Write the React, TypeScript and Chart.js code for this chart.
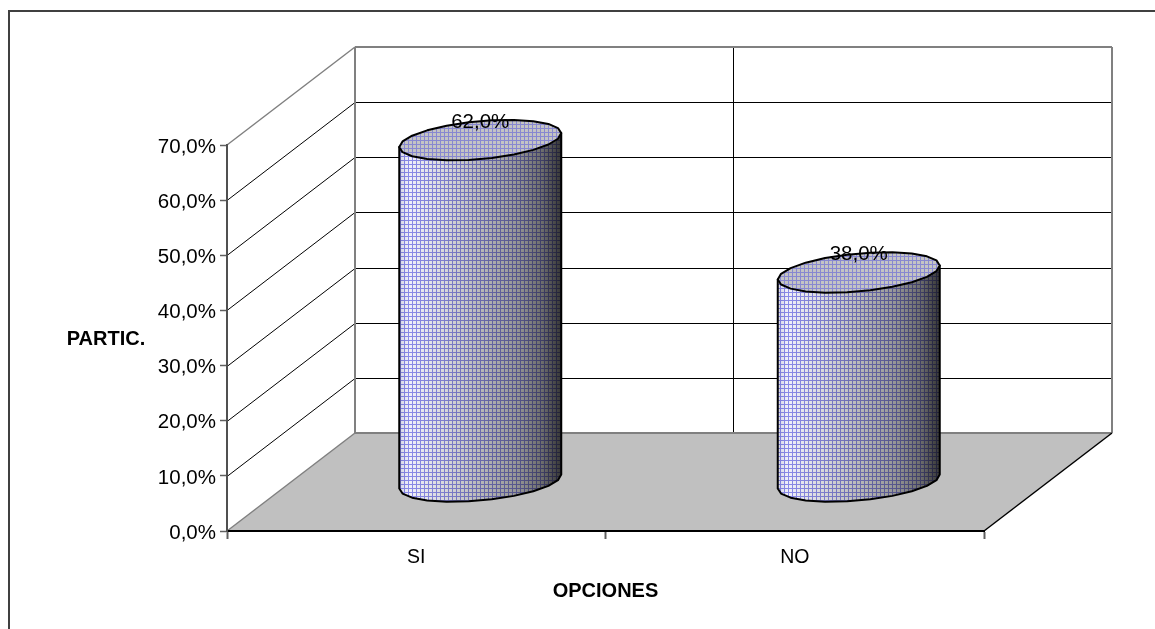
import React, { useEffect, useRef } from "react";
import { Chart, registerables } from "chart.js";

Chart.register(...registerables);

// Chart content
const categories = ["SI", "NO"];
const shares = [62, 38];
const axisMax = 70;
const axisStep = 10;
const xTitle = "OPCIONES";
const yTitle = "PARTIC.";

// Oblique projection of the plot box
const DEPTH_X = 128;
const DEPTH_Y = 98;
const TILT = 7;
const CAP_B = 19;
const SEGMENTS = 22;

const FONT = '"Liberation Sans", Arial, sans-serif';
const WALL_GREY = "#808080";

const percent = (v: number) => v.toFixed(1).replace(".", ",") + "%";

function gridPattern(ctx: CanvasRenderingContext2D, base: string, line: string) {
  const c = document.createElement("canvas");
  c.width = 4;
  c.height = 4;
  const p = c.getContext("2d")!;
  p.fillStyle = base;
  p.fillRect(0, 0, 4, 4);
  p.fillStyle = line;
  p.fillRect(0, 0, 4, 1);
  p.fillRect(0, 0, 1, 4);
  return ctx.createPattern(c, "repeat")!;
}

function capPoint(cx: number, cy: number, a: number, t: number): [number, number] {
  return [cx + a * Math.cos(t), cy + CAP_B * Math.sin(t) - TILT * Math.cos(t)];
}

function segment(ctx: CanvasRenderingContext2D, x1: number, y1: number, x2: number, y2: number, color: string, width: number) {
  ctx.strokeStyle = color;
  ctx.lineWidth = width;
  ctx.beginPath();
  ctx.moveTo(x1, y1);
  ctx.lineTo(x2, y2);
  ctx.stroke();
}

// Frame, floor and the two walls behind the columns
const boxPlugin = {
  id: "box",
  beforeDraw(chart: any) {
    const { ctx, scales } = chart;
    const x = scales.x;
    const y = scales.y;
    const left = x.left;
    const right = x.right;
    const bottom = y.getPixelForValue(0);
    const top = y.getPixelForValue(axisMax);
    ctx.save();

    ctx.strokeStyle = "#404040";
    ctx.lineWidth = 2;
    ctx.beginPath();
    ctx.moveTo(9, chart.height + 2);
    ctx.lineTo(9, 11);
    ctx.lineTo(chart.width + 2, 11);
    ctx.stroke();

    ctx.fillStyle = "#c0c0c0";
    ctx.beginPath();
    ctx.moveTo(left, bottom);
    ctx.lineTo(right, bottom);
    ctx.lineTo(right + DEPTH_X, bottom - DEPTH_Y);
    ctx.lineTo(left + DEPTH_X, bottom - DEPTH_Y);
    ctx.closePath();
    ctx.fill();

    for (let v = axisStep; v < axisMax; v += axisStep) {
      const py = Math.round(y.getPixelForValue(v)) + 0.5;
      segment(ctx, left, py, left + DEPTH_X, py - DEPTH_Y, "#000000", 1);
      segment(ctx, left + DEPTH_X, py - DEPTH_Y, right + DEPTH_X, py - DEPTH_Y, "#000000", 1);
    }
    const mid = x.getPixelForValue(0.5) + DEPTH_X;
    segment(ctx, mid, top - DEPTH_Y, mid, bottom - DEPTH_Y, "#000000", 1);

    segment(ctx, left, top, left + DEPTH_X, top - DEPTH_Y, WALL_GREY, 1.5);
    segment(ctx, left + DEPTH_X, top - DEPTH_Y, right + DEPTH_X, top - DEPTH_Y, WALL_GREY, 2);
    segment(ctx, left + DEPTH_X, top - DEPTH_Y, left + DEPTH_X, bottom - DEPTH_Y, WALL_GREY, 2);
    segment(ctx, right + DEPTH_X, top - DEPTH_Y, right + DEPTH_X, bottom - DEPTH_Y, WALL_GREY, 2);
    segment(ctx, left + DEPTH_X, bottom - DEPTH_Y, right + DEPTH_X, bottom - DEPTH_Y, WALL_GREY, 2);
    segment(ctx, left, bottom, left + DEPTH_X, bottom - DEPTH_Y, WALL_GREY, 1.5);
    segment(ctx, right, bottom, right + DEPTH_X, bottom - DEPTH_Y, "#000000", 1.5);

    // The value axis name sits horizontally, which scale titles cannot do
    ctx.fillStyle = "#000000";
    ctx.font = `bold 20px ${FONT}`;
    ctx.textAlign = "center";
    ctx.textBaseline = "middle";
    ctx.fillText(yTitle, 106, 339);
    ctx.restore();
  },
};

// Columns are drawn as cylinders from the geometry of the bar elements
const cylinderPlugin = {
  id: "cylinder",
  beforeDatasetDraw() {
    return false;
  },
  afterDatasetsDraw(chart: any) {
    const { ctx } = chart;
    const meta = chart.getDatasetMeta(0);
    const sidePattern = gridPattern(ctx, "#fafafa", "#9090e8");
    const capPattern = gridPattern(ctx, "#c4c4c4", "#8888d0");

    meta.data.forEach((bar: any, i: number) => {
      const props = bar.getProps(["x", "y", "base", "width"], true);
      const cx = props.x + DEPTH_X / 2;
      const cyTop = props.y - DEPTH_Y / 2;
      const cyBottom = props.base - DEPTH_Y / 2;
      const a = props.width / 2;

      const side = new Path2D();
      const topRight = capPoint(cx, cyTop, a, 0);
      side.moveTo(topRight[0], topRight[1]);
      for (let s = 0; s <= SEGMENTS / 2; s++) {
        const p = capPoint(cx, cyBottom, a, (s / (SEGMENTS / 2)) * Math.PI);
        side.lineTo(p[0], p[1]);
      }
      const topLeft = capPoint(cx, cyTop, a, Math.PI);
      side.lineTo(topLeft[0], topLeft[1]);
      side.closePath();

      const cap = new Path2D();
      for (let s = 0; s < SEGMENTS; s++) {
        const p = capPoint(cx, cyTop, a, (s / SEGMENTS) * 2 * Math.PI);
        if (s === 0) cap.moveTo(p[0], p[1]);
        else cap.lineTo(p[0], p[1]);
      }
      cap.closePath();

      ctx.save();
      ctx.fillStyle = sidePattern;
      ctx.fill(side);
      ctx.globalCompositeOperation = "multiply";
      const shade = ctx.createLinearGradient(cx - a, 0, cx + a, 0);
      shade.addColorStop(0, "#d8d8e8");
      shade.addColorStop(0.06, "#f4f4ff");
      shade.addColorStop(0.25, "#e0e0e4");
      shade.addColorStop(0.5, "#bcbcbc");
      shade.addColorStop(0.72, "#9a9a9a");
      shade.addColorStop(0.88, "#707070");
      shade.addColorStop(1, "#383838");
      ctx.fillStyle = shade;
      ctx.fill(side);
      ctx.globalCompositeOperation = "source-over";

      ctx.strokeStyle = "#000000";
      ctx.lineWidth = 2;
      ctx.lineJoin = "round";
      ctx.stroke(side);
      ctx.fillStyle = capPattern;
      ctx.fill(cap);
      ctx.stroke(cap);

      ctx.fillStyle = "#000000";
      ctx.font = `20.5px ${FONT}`;
      ctx.textAlign = "center";
      ctx.textBaseline = "middle";
      ctx.fillText(percent(shares[i]), cx, cyTop - 18);
      ctx.restore();
    });
  },
};

export default function App() {
  const ref = useRef<HTMLCanvasElement>(null);

  useEffect(() => {
    const chart = new Chart(ref.current!, {
      type: "bar",
      data: {
        labels: categories,
        datasets: [
          {
            label: yTitle,
            data: shares,
            backgroundColor: "#9999ff",
            barPercentage: 162 / 378.5,
            categoryPercentage: 1,
          },
        ],
      },
      plugins: [boxPlugin, cylinderPlugin],
      options: {
        responsive: false,
        animation: false,
        layout: { padding: { top: 145, right: 171, bottom: 0, left: 0 } },
        plugins: { legend: { display: false }, title: { display: false }, tooltip: { enabled: false } },
        scales: {
          x: {
            afterFit(scale: any) {
              scale.height = 98;
            },
            grid: { drawOnChartArea: false, tickLength: 8, tickColor: "#606060", tickWidth: 2 },
            border: { color: "#000000", width: 2 },
            ticks: {
              color: "#000000",
              padding: 7,
              font: { family: FONT, size: 19.5 },
              maxRotation: 0,
            },
            title: {
              display: true,
              text: xTitle,
              color: "#000000",
              font: { family: FONT, size: 20, weight: "bold" },
              padding: { top: 0, bottom: 26 },
            },
          },
          y: {
            min: 0,
            max: axisMax,
            afterFit(scale: any) {
              scale.width = 227;
            },
            grid: { drawOnChartArea: false, tickLength: 7, tickColor: "#606060", tickWidth: 1.5 },
            border: { color: "#505050", width: 2 },
            ticks: {
              stepSize: axisStep,
              color: "#000000",
              padding: 4,
              labelOffset: 2,
              font: { family: FONT, size: 20.5 },
              callback: (v: any) => percent(Number(v)),
            },
          },
        },
      },
    });
    return () => chart.destroy();
  }, []);

  return (
    <canvas
      ref={ref}
      width={1155}
      height={629}
      style={{ position: "absolute", left: 0, top: 0, display: "block" }}
    />
  );
}
